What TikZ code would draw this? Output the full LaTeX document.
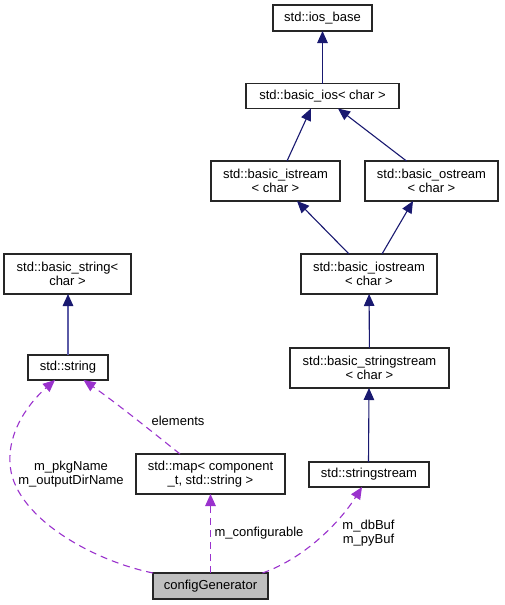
\documentclass[tikz,border=0pt]{standalone}
\usepackage{fontspec}
\setmainfont{Liberation Sans}
\usetikzlibrary{arrows.meta}
\definecolor{edgeblue}{HTML}{191970}
\definecolor{edgepurple}{HTML}{9A32CD}
\definecolor{tplblue}{HTML}{5A5AA6}
\definecolor{boxgray}{HTML}{BFBFBF}
\begin{document}
\begin{tikzpicture}[x=1pt,y=-1pt,
  box/.style={draw=black!85, line width=1.2pt, rectangle, inner sep=0pt, outer sep=0pt,
    align=center, font=\fontsize{13}{14.6}\selectfont},
  lbl/.style={inner sep=0pt, align=center, font=\fontsize{13}{14.2}\selectfont},
  tip/.style={-{Triangle[length=12pt,width=10.5pt]}},
  inh/.style={draw=edgeblue, line width=1.1pt, tip},
  tpl/.style={draw=tplblue, line width=1.4pt, -{Triangle[length=12pt,width=10.5pt,color=edgeblue]}},
  dep/.style={draw=edgepurple, line width=1.1pt, dash pattern=on 7pt off 5pt, tip}]
\useasboundingbox (0,0) rectangle (504,605);
% nodes
\node[box, minimum width=99pt, minimum height=26pt] (iosbase) at (322.5,18) {std::ios\_base};
\node[box, minimum width=153pt, minimum height=25pt] (basicios) at (322.5,96) {std::basic\_ios< char >};
\node[box, minimum width=129pt, minimum height=40pt] (istream) at (275.5,181) {std::basic\_istream\\< char >};
\node[box, minimum width=133pt, minimum height=40pt] (ostream) at (431.5,181) {std::basic\_ostream\\< char >};
\node[box, minimum width=136pt, minimum height=40pt] (iostream) at (369,274) {std::basic\_iostream\\< char >};
\node[box, minimum width=127pt, minimum height=40pt] (basicstring) at (67.5,274) {std::basic\_string<\\char >};
\node[box, minimum width=80pt, minimum height=25pt] (stdstring) at (68,367.5) {std::string};
\node[box, minimum width=159pt, minimum height=40pt] (sstreambase) at (369.5,368) {std::basic\_stringstream\\< char >};
\node[box, minimum width=149pt, minimum height=40pt] (map) at (210.5,474) {std::map< component\\\_t, std::string >};
\node[box, minimum width=120pt, minimum height=25pt] (sstream) at (369,474.5) {std::stringstream};
\node[box, fill=boxgray, minimum width=115pt, minimum height=26pt] (config) at (210.5,586) {configGenerator};
% inheritance edges
\draw[inh] (basicios) -- (iosbase);
\draw[inh] ([xshift=11.5pt]istream.north) -- ([xshift=-11.5pt]basicios.south);
\draw[inh] ([xshift=-25pt]ostream.north) -- ([xshift=15.5pt]basicios.south);
\draw[inh] ([xshift=-20pt]iostream.north) -- ([xshift=21.5pt]istream.south);
\draw[inh] ([xshift=13pt]iostream.north) -- ([xshift=-18.5pt]ostream.south);
\draw[inh] (sstreambase) -- (iostream);
\draw[inh] ([xshift=-0.5pt]sstream.north) -- ([xshift=-0.5pt]sstreambase.south);
\draw[tpl] (stdstring) -- ([xshift=0.5pt]basicstring.south);
% usage edges
\draw[dep] (config.north west) .. controls (90,560) and (12,515) .. (10,463)
  .. controls (8,430) and (30,402) .. ([xshift=-13pt]stdstring.south);
\draw[dep] ([xshift=-30.5pt]map.north) .. controls (150,430) and (115,402) .. ([xshift=15.5pt]stdstring.south);
\draw[dep] (config.north) -- (map.south);
\draw[dep] ([xshift=52pt]config.north) .. controls (305,558) and (340,522) .. ([xshift=-7pt]sstream.south);
% labels
\node[lbl] (lelements) at (178,421) {elements};
\node[lbl] (lpkg) at (71,474) {m\_pkgName\\m\_outputDirName};
\node[lbl] (lconf) at (259,533) {m\_configurable};
\node[lbl] (lbuf) at (368.5,533) {m\_dbBuf\\m\_pyBuf};
\end{tikzpicture}
\end{document}
